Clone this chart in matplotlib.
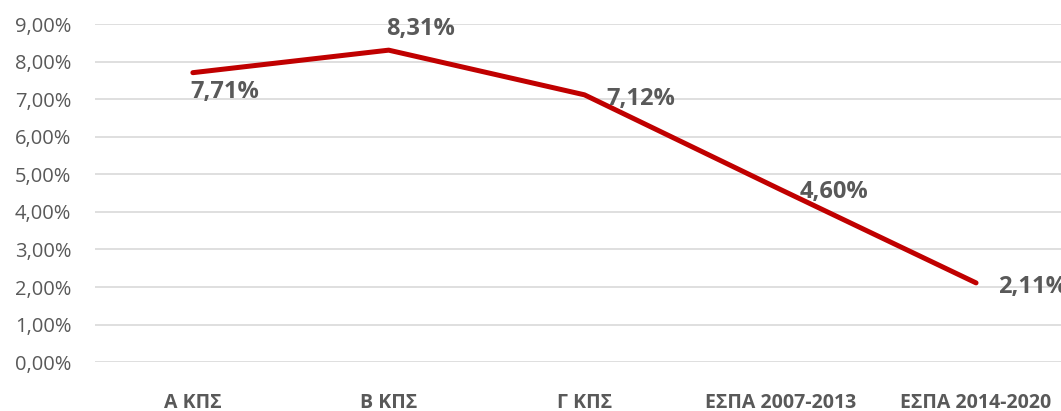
import matplotlib.pyplot as plt

categories = ['Α ΚΠΣ', 'Β ΚΠΣ', 'Γ ΚΠΣ', 'ΕΣΠΑ 2007-2013', 'ΕΣΠΑ 2014-2020']
values = [7.71, 8.31, 7.12, 4.60, 2.11]
labels = ['7,71%', '8,31%', '7,12%', '4,60%', '2,11%']
yticks = [0, 1, 2, 3, 4, 5, 6, 7, 8, 9]

plt.rcParams['font.family'] = ['Open Sans', 'DejaVu Sans']
grey = '#595959'

fig = plt.figure(figsize=(10.61, 4.11), dpi=100)
ax = fig.add_axes([0.0895, 0.119, 0.9227, 0.822])

x = list(range(len(categories)))
ax.plot(x, values, color='#C00000', linewidth=3.6, solid_capstyle='round', zorder=3)

# data labels, placed roughly like the Excel original
offsets = [(-2, -14, 'left'), (-2, 15, 'left'), (16, -3, 'left'), (14, -2, 'left'), (16, -3, 'left')]
for xi, v, lab, (dx, dy, ha) in zip(x, values, labels, offsets):
    ax.annotate(lab, (xi, v), xytext=(dx, dy), textcoords='offset points',
                ha=ha, va='center', fontsize=17, fontweight='bold', color=grey,
                annotation_clip=False)

ax.set_xlim(-0.5, 4.5)
ax.set_ylim(0, 9)
ax.set_yticks(yticks)
ax.set_yticklabels(['%d,00%%' % t for t in yticks], fontsize=14.5, color=grey)
ax.set_xticks(x)
ax.set_xticklabels(categories, fontsize=14, fontweight='bold', color=grey)
ax.tick_params(axis='y', length=0, pad=17)
ax.tick_params(axis='x', length=0, pad=22)
ax.grid(axis='y', color='#D9D9D9', linewidth=1.2)
ax.set_axisbelow(True)
for s in ax.spines.values():
    s.set_visible(False)

fig.savefig('out.png', dpi=100)
